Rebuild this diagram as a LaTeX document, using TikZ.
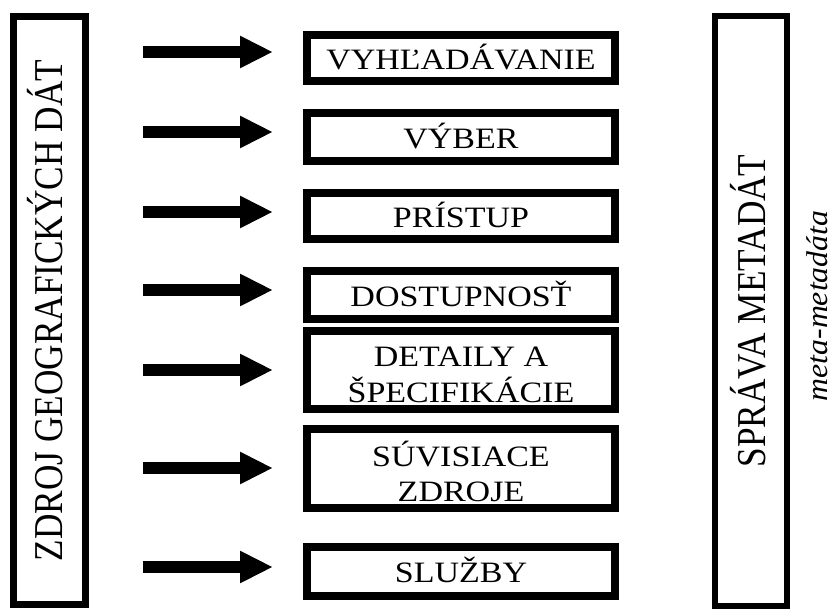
\documentclass[tikz,border=0pt]{standalone}
\usepackage{fontspec}
\setmainfont{Liberation Serif}
\usepackage{graphicx}
\usetikzlibrary{arrows.meta}
% horizontal labels are set slightly flattened and nudged down by #1
\newcommand{\flatlabel}[2][4pt]{\raisebox{-#1}[\height][\depth]{\scalebox{1}[0.87]{\begin{tabular}{@{}c@{}}#2\end{tabular}}}}
% vertical labels read bottom to top, slightly condensed along the line, nudged left by #1
\newcommand{\uplabel}[2][0pt]{\rotatebox{90}{\raisebox{#1}[\height][\depth]{\scalebox{0.86}[1]{#2}}}}
\begin{document}
\begin{tikzpicture}[x=1pt,y=-1pt,
  item/.style={draw, line width=8pt, minimum width=308pt, inner sep=0pt,
    align=center, font=\fontsize{34}{41}\selectfont},
  column/.style={draw, inner sep=0pt, minimum width=72pt},
  pipe/.style={line width=12pt, -{Triangle[length=33pt,width=30pt]}, shorten >=30pt}
]
\useasboundingbox (0,0) rectangle (832,610);

% source column on the left
\node[column, line width=7pt, minimum height=588pt] (src) at (49.5,310.5)
  {\uplabel[4pt]{\fontsize{41}{48}\selectfont ZDROJ GEOGRAFICKÝCH DÁT}};

% metadata management column on the right
\node[column, line width=6pt, minimum height=590pt] (mgmt) at (751,311)
  {\uplabel[3pt]{\fontsize{41}{48}\selectfont SPRÁVA METADÁT}};
\node[inner sep=0pt] (meta) at (817,306)
  {\rotatebox{90}{\scalebox{1.06}[1]{\fontsize{30}{34}\selectfont\itshape meta-metadáta}}};

% service boxes
\node[item, minimum height=46pt] (v1) at (461,58)    {\flatlabel{VYHĽADÁVANIE}};
\node[item, minimum height=48pt] (v2) at (461,137)   {\flatlabel{VÝBER}};
\node[item, minimum height=46pt] (v3) at (461,216)   {\flatlabel{PRÍSTUP}};
\node[item, minimum height=48pt] (v4) at (461,295)   {\flatlabel{DOSTUPNOSŤ}};
\node[item, minimum height=78pt] (v5) at (461,370)   {\flatlabel[7pt]{DETAILY A\\ŠPECIFIKÁCIE}};
\node[item, minimum height=79pt] (v6) at (461,468.5) {\flatlabel[8pt]{SÚVISIACE\\ZDROJE}};
\node[item, minimum height=49pt] (v7) at (461,571.5) {\flatlabel{SLUŽBY}};

% arrows leading into the boxes
\foreach \i/\y in {1/52,2/132,3/212,4/290,5/370,6/468,7/567}{
  \coordinate (a\i) at (143,\y);
  \draw[pipe] (a\i) -- (a\i -| v\i.west);
}
\end{tikzpicture}
\end{document}
